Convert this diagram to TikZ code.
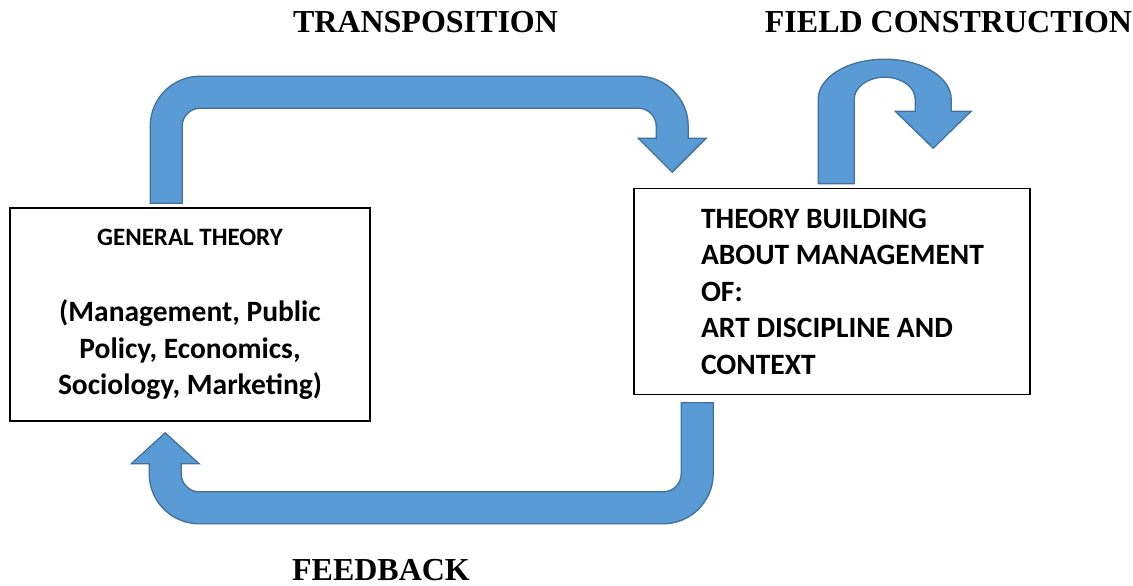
\documentclass[tikz,border=0pt]{standalone}
\usepackage{fontspec}
\setmainfont{Liberation Serif}
\newfontfamily\boxfont{Carlito}
\usepackage{tikz}
\usetikzlibrary{calc,positioning}

\definecolor{arrowfill}{HTML}{5B9BD5}
\definecolor{arrowline}{HTML}{41719C}

\begin{document}
\begin{tikzpicture}[x=1pt,y=1pt,node distance=1cm,
    box/.style={draw,line width=1.6pt,inner sep=0pt,font=\boxfont\bfseries\fontsize{29.5}{36.5}\selectfont},
    title/.style={inner sep=0pt,font=\bfseries\fontsize{32}{36}\selectfont},
    blockarrow/.style={fill=arrowfill,draw=arrowline,line width=1.3pt,line join=miter}]
  \useasboundingbox (0,0) rectangle (1133,586);

  \node[box,minimum width=360pt,minimum height=213pt,align=center] (gen) at (190,271.5) {{\fontsize{25}{30}\selectfont GENERAL THEORY}\\[40pt](Management, Public\\Policy, Economics,\\Sociology, Marketing)};
  \node[box,minimum width=396pt,minimum height=206pt,right of=gen,node distance=642pt,yshift=23pt] (build) {};
  \node[box,draw=none,align=left,xshift=10.5pt] (build_txt) at (build) {THEORY BUILDING\\ABOUT MANAGEMENT\\OF:\\ART DISCIPLINE AND\\CONTEXT};

  \node[title] (tr_lbl) at (425.5,564) {TRANSPOSITION};
  \node[title] (fc_lbl) at (948.5,564) {FIELD CONSTRUCTION};
  \node[title] (fb_lbl) at (381,16) {FEEDBACK};

  %%%%

  \coordinate (tr_from) at ($(gen.north west)+(157,4)$);
  \coordinate (tr_to) at ($(build.north west)+(39,15.5)$);
  \draw[blockarrow] ($(tr_from)+(-16,0)$) -- ++(0,77) arc[start angle=180,end angle=90,radius=50] -- ++(438,0) arc[start angle=90,end angle=0,radius=50] -- ++(0,-12) -- ++(18,0) -- (tr_to) -- ++(-34,34) -- ++(18,0) -- ++(0,12) arc[start angle=0,end angle=90,radius=18] -- ++(-438,0) arc[start angle=90,end angle=180,radius=18] -- ++(0,-77) -- cycle;

  \coordinate (fb_from) at ($(build.south west)+(64,-7.5)$);
  \coordinate (fb_to) at ($(gen.south west)+(156,-11)$);
  \draw[blockarrow] ($(fb_from)+(-16,0)$) -- ++(0,-71) arc[start angle=0,end angle=-90,radius=18] -- ++(-464,0) arc[start angle=270,end angle=180,radius=18] -- ++(0,10) -- ++(18,0) -- (fb_to) -- ++(-34,-31) -- ++(18,0) -- ++(0,-10) arc[start angle=180,end angle=270,radius=50] -- ++(464,0) arc[start angle=270,end angle=360,radius=50] -- ++(0,71) -- cycle;

  \coordinate (fc_from) at ($(build.north west)+(203,4)$);
  \coordinate (fc_to) at ($(build.north west)+(300,39.5)$);
  \draw[blockarrow] ($(fc_from)+(-18,0)$) -- ++(0,84.5) arc[start angle=180,end angle=0,x radius=66.5,y radius=40] -- ++(0,-12) -- ++(20,0) -- (fc_to) -- ++(-38,37) -- ++(20,0) -- ++(0,12) arc[start angle=0,end angle=180,x radius=30.5,y radius=22] -- ++(0,-84.5) -- cycle;

\end{tikzpicture}
\end{document}
